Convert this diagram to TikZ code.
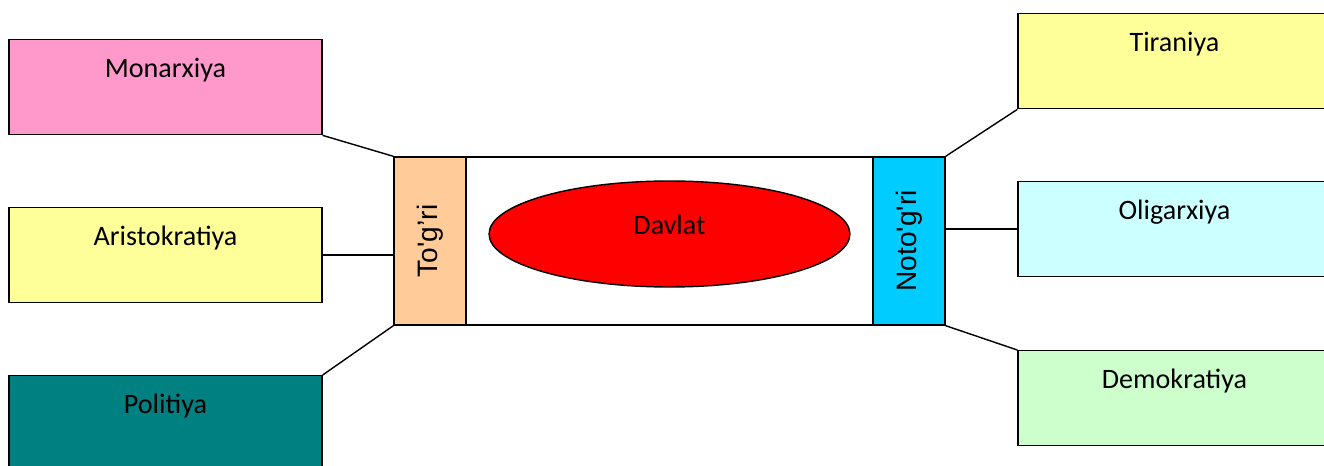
\documentclass[tikz,border=0pt]{standalone}
\usepackage{fontspec}
\setmainfont{Carlito}
\newfontfamily\arialfont{Liberation Sans}
\usepackage{tikz}
\usetikzlibrary{calc, shapes.geometric}
\definecolor{mypink}{RGB}{255, 153, 204}
\definecolor{myyellow}{RGB}{255, 255, 153}
\definecolor{myteal}{RGB}{0, 128, 128}
\definecolor{mylightcyan}{RGB}{204, 255, 255}
\definecolor{mylightgreen}{RGB}{204, 255, 204}
\definecolor{mypeach}{RGB}{255, 204, 153}
\definecolor{mycyan}{RGB}{0, 204, 255}
\tikzset{formbox/.style={draw, line width = 0.8pt, anchor = north, inner sep = 0pt, minimum width = 6.26cm, text height = 0.76cm, text depth = 1.14cm, font = \fontsize{16}{19}\selectfont}}
\tikzset{kindbox/.style={draw, line width = 0.8pt, inner sep = 0pt, minimum width = 1.44cm, minimum height = 3.36cm, font = \arialfont\fontsize{16}{19}\selectfont}}
\tikzset{link/.style={line width = 0.8pt}}

\begin{document}
\begin{tikzpicture}[x = 0.02cm, y = -0.02cm]
\clip (0,0) rectangle (1324, 466);
\fill[white] (0,0) rectangle (1324, 466);

\node[draw, line width = 0.8pt, minimum width = 11.02cm, minimum height = 3.36cm] (state) at (669.5, 241) {};
\node[kindbox, fill = mypeach, anchor = west] (tog) at (state.west) {\rotatebox{90}{To'g’ri}};
\node[kindbox, fill = mycyan, anchor = east] (notog) at (state.east) {\rotatebox{90}{Noto'g'ri}};
\node[draw, line width = 0.8pt, fill = red, ellipse, inner sep = 0pt, minimum width = 7.22cm, minimum height = 2.12cm, text height = 0.3cm, text depth = 0.3cm, font = \fontsize{16}{19}\selectfont] (davlat) at (669.5, 234) {Davlat};

% to'g'ri shakllar
\node[formbox, fill = mypink] (mon) at (165.5, 39) {Monarxiya};
\node[formbox, fill = myyellow] (ari) at (165.5, 207) {Aristokratiya};
\node[formbox, fill = myteal] (pol) at (165.5, 375) {Politiya};

% noto'g'ri shakllar
\node[formbox, fill = myyellow] (tir) at (1174.5, 13) {Tiraniya};
\node[formbox, fill = mylightcyan] (oli) at (1174.5, 181) {Oligarxiya};
\node[formbox, fill = mylightgreen] (dem) at (1174.5, 350) {Demokratiya};

\draw[link] (mon.south east) -- (tog.north west);
\draw[link] (ari.east) -- (ari.east -| tog.west);
\draw[link] (pol.north east) -- (tog.south west);
\draw[link] (tir.south west) -- (notog.north east);
\draw[link] (oli.west) -- (oli.west -| notog.east);
\draw[link] (dem.north west) -- (notog.south east);

\end{tikzpicture}
\end{document}
